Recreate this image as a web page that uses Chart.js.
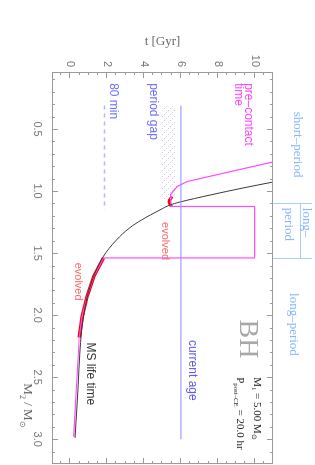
<!DOCTYPE html>
<html lang="en">
<head>
<meta charset="UTF-8">
<title>Pre-contact time vs donor mass</title>
<script src="https://cdn.jsdelivr.net/npm/chart.js"></script>
<style>
    body {
        margin: 0;
        padding: 0;
        background: #fff;
        overflow: hidden;
    }
    /* chart is drawn landscape and turned a quarter clockwise, like the original figure */
    #wrap {
        position: absolute;
        left: 0;
        top: 0;
        width: 465px;
        height: 315px;
        transform-origin: 0 0;
        transform: translate(315px, 0) rotate(90deg);
    }
</style>
</head>
<body>
<div id="wrap"><canvas id="myChart" width="465" height="315"></canvas></div>

<script>
    var timeTicks = [0, 2, 4, 6, 8, 10];
    var massTicks = [0.5, 1.0, 1.5, 2.0, 2.5, 3.0];

    // MS life time (black), starts where it leaves the box at t = 11
    var msMass = [0.927, 0.975, 1.032, 1.088, 1.112, 1.152, 1.233, 1.298, 1.394, 1.531, 1.773, 2.039, 2.281, 2.6, 2.99];
    var msTime = [11.0, 9.37, 7.58, 5.95, 5.41, 4.86, 3.86, 3.2, 2.5, 1.77, 1.06, 0.68, 0.52, 0.41, 0.25];

    // pre-contact time (magenta)
    var preMass = [0.765, 0.923, 0.963, 1.03, 1.045, 1.124, 1.124, 1.539, 1.539, 1.687, 1.848, 2.009, 2.18, 2.98];
    var preTime = [11.0, 6.34, 5.80, 5.43, 5.45, 5.45, 10.0, 10.0, 1.8, 1.27, 0.91, 0.64, 0.48, 0.17];

    // evolved donor (red)
    var evoMassA = [1.045, 1.085, 1.124];
    var evoTimeA = [5.52, 5.36, 5.48];
    var evoMassB = [1.539, 1.687, 1.848, 2.009, 2.18];
    var evoTimeB = [1.8, 1.27, 0.91, 0.64, 0.48];

    // 80 min period limit
    var minPMass = [0.31, 1.15];
    var minPTime = [1.85, 1.85];

    // current age
    var ageMass = [0.31, 3.0];
    var ageTime = [6.0, 6.0];

    // period gap (hatched)
    var gapMass = [0.31, 0.31, 1.07, 1.07];
    var gapTime = [4.9, 5.7, 5.7, 4.9];

    // short / long period borders
    var periodEdges = [1.10, 1.54];

    function pts(xs, ys) {
        return xs.map(function (x, i) { return { x: x, y: ys[i] }; });
    }

    function hatch() {
        var c = document.createElement('canvas');
        c.width = 6; c.height = 6;
        var g = c.getContext('2d');
        g.strokeStyle = '#c4c4ff';
        g.lineWidth = 1;
        g.setLineDash([1.5, 1.5]);
        g.beginPath();
        g.moveTo(0, 0); g.lineTo(6, 6);
        g.moveTo(-3, 3); g.lineTo(3, 9);
        g.moveTo(3, -3); g.lineTo(9, 3);
        g.stroke();
        return g.createPattern(c, 'repeat');
    }

    function rich(ctx, parts, x, y, size, family, color) {
        ctx.fillStyle = color;
        ctx.textAlign = 'left';
        ctx.textBaseline = 'middle';
        parts.forEach(function (p) {
            var fs = p.sub ? size * 0.62 : size;
            ctx.font = fs + 'px ' + family;
            ctx.fillText(p.t, x, y + (p.sub ? size * 0.35 : 0));
            x += ctx.measureText(p.t).width;
        });
    }

    var frame = {
        id: 'frame',
        afterDatasetsDraw: function (chart) {
            var ctx = chart.ctx, a = chart.chartArea;
            var xs = chart.scales.x, ys = chart.scales.y;
            var X = function (v) { return xs.getPixelForValue(v); };
            var Y = function (v) { return ys.getPixelForValue(v); };
            ctx.save();

            // box + inner ticks
            ctx.strokeStyle = '#9a9a9a';
            ctx.lineWidth = 1;
            ctx.strokeRect(a.left + 0.5, a.top + 0.5, a.right - a.left - 1, a.bottom - a.top - 1);
            ctx.beginPath();
            for (var i = 1; i <= 32; i++) {
                var m = i / 10, px = Math.round(X(m)) + 0.5;
                if (px > a.right) break;
                var len = (i % 5 === 0) ? 6 : 3;
                ctx.moveTo(px, a.bottom); ctx.lineTo(px, a.bottom - len);
                ctx.moveTo(px, a.top); ctx.lineTo(px, a.top + len);
            }
            for (var j = -1; j <= 21; j++) {
                var t = j / 2, py = Math.round(Y(t)) + 0.5;
                var l2 = (j % 4 === 0) ? 6 : 3;
                ctx.moveTo(a.left, py); ctx.lineTo(a.left + l2, py);
                ctx.moveTo(a.right, py); ctx.lineTo(a.right - l2, py);
            }
            ctx.stroke();

            // period class strip above the box
            ctx.strokeStyle = '#a8ccff';
            ctx.beginPath();
            periodEdges.forEach(function (m) {
                var px = Math.round(X(m)) + 0.5;
                ctx.moveTo(px, a.top); ctx.lineTo(px, 3);
            });
            var sy = Math.round(Y(12.5)) + 0.5;
            ctx.moveTo(X(periodEdges[0]), sy); ctx.lineTo(X(periodEdges[1]), sy);
            ctx.stroke();

            ctx.textBaseline = 'middle';
            ctx.font = '13px "Liberation Serif"';
            ctx.fillStyle = '#86b6ff';
            ctx.textAlign = 'center';
            ctx.fillText('short\u2013period', X(0.625), Y(12.3));
            ctx.fillText('long\u2013period', X(2.075), Y(12.1));
            ctx.textAlign = 'left';
            ctx.fillText('long\u2013', X(1.135), Y(12.8));
            ctx.fillText('period', X(1.135), Y(11.85));

            // labels inside the box
            ctx.font = '12px "Liberation Sans"';
            ctx.fillStyle = '#6c6cff';
            ctx.fillText('80 min', X(0.13), Y(2.34));
            ctx.fillText('period gap', X(0.13), Y(4.5));
            ctx.fillStyle = '#5a5af0';
            ctx.fillText('current age', X(2.2), Y(6.63));
            ctx.fillStyle = '#ff44ff';
            ctx.fillText('pre\u2013contact', X(0.13), Y(9.67));
            ctx.fillText('time', X(0.13), Y(9.13));
            ctx.fillStyle = '#333';
            ctx.fillText('MS life time', X(2.22), Y(1.09));
            ctx.font = '11px "Liberation Sans"';
            ctx.fillStyle = '#ff6464';
            ctx.fillText('evolved', X(1.25), Y(5.16));
            ctx.fillText('evolved', X(1.577), Y(0.43));

            ctx.font = '28px "Liberation Serif"';
            ctx.fillStyle = '#a8a8a8';
            ctx.fillText('BH', X(2.035), Y(9.6));

            rich(ctx, [{ t: 'M' }, { t: '1', sub: true }, { t: ' = 5.00 M' }, { t: '\u2299', sub: true }],
                X(2.5), Y(10.15), 11, '"Liberation Serif"', '#222');
            rich(ctx, [{ t: 'P' }, { t: 'post\u2013CE', sub: true }, { t: ' = 20.0 hr' }],
                X(2.5), Y(9.2), 11, '"Liberation Serif"', '#222');

            rich(ctx, [{ t: 'M' }, { t: '2', sub: true }, { t: ' / M' }, { t: '\u2299', sub: true }],
                X(2.55), a.bottom + 25, 13, '"Liberation Serif"', '#666');
            ctx.restore();
        }
    };

    var ctx = document.getElementById('myChart').getContext('2d');
    var myChart = new Chart(ctx, {
        type: 'scatter',
        data: {
            datasets: [
                { data: pts(gapMass, gapTime), showLine: true, fill: 'shape', backgroundColor: hatch(), borderWidth: 0, pointRadius: 0 },
                { data: pts(ageMass, ageTime), showLine: true, borderColor: '#8c8cff', borderWidth: 1, pointRadius: 0 },
                { data: pts(minPMass, minPTime), showLine: true, borderColor: '#b0b6ff', borderWidth: 1.5, borderDash: [4, 4], pointRadius: 0 },
                { data: pts(msMass, msTime), showLine: true, borderColor: '#3a3a3a', borderWidth: 1, pointRadius: 0, cubicInterpolationMode: 'monotone' },
                { data: pts(preMass, preTime), showLine: true, borderColor: '#ff4cff', borderWidth: 1.2, pointRadius: 0 },
                { data: pts(evoMassA, evoTimeA), showLine: true, borderColor: '#ff0000', borderWidth: 3, pointRadius: 0, tension: 0.4 },
                { data: pts(evoMassB, evoTimeB), showLine: true, borderColor: '#ff0000', borderWidth: 3.5, pointRadius: 0 }
            ]
        },
        options: {
            responsive: false,
            animation: false,
            layout: { padding: { top: 42, right: 1, left: 0, bottom: 0 } },
            plugins: {
                legend: { display: false },
                tooltip: { enabled: false }
            },
            scales: {
                x: {
                    type: 'linear',
                    min: 0.04,
                    max: 3.2,
                    afterFit: function (s) { s.height = 52; },
                    afterBuildTicks: function (s) { s.ticks = massTicks.map(function (v) { return { value: v }; }); },
                    grid: { display: false, drawTicks: false },
                    border: { display: false },
                    ticks: {
                        color: '#777',
                        padding: 8,
                        maxRotation: 0,
                        font: { family: '"Liberation Sans"', size: 11 },
                        callback: function (v) { return v.toFixed(1); }
                    }
                },
                y: {
                    type: 'linear',
                    min: -1,
                    max: 11,
                    afterFit: function (s) { s.width = 72; },
                    afterBuildTicks: function (s) { s.ticks = timeTicks.map(function (v) { return { value: v }; }); },
                    grid: { display: false, drawTicks: false },
                    border: { display: false },
                    ticks: {
                        color: '#777',
                        padding: 5,
                        font: { family: '"Liberation Sans"', size: 11 }
                    },
                    title: {
                        display: true,
                        text: 't [Gyr]',
                        color: '#666',
                        padding: { top: 34, bottom: 0 },
                        font: { family: '"Liberation Serif"', size: 13 }
                    }
                }
            }
        },
        plugins: [frame]
    });
</script>
</body>
</html>
